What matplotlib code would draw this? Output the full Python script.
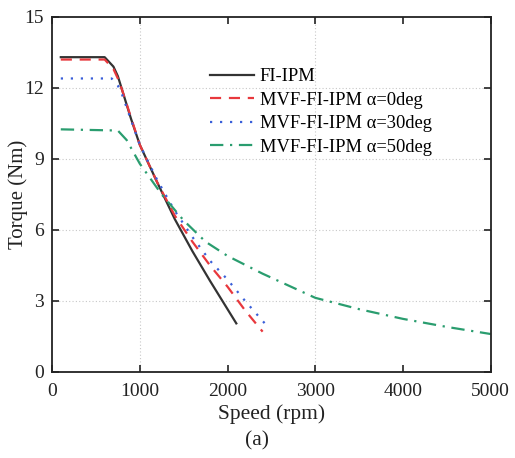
import numpy as np
import matplotlib.pyplot as plt

plt.rcParams['font.family'] = ['Liberation Serif', 'DejaVu Serif']
plt.rcParams['mathtext.fontset'] = 'stix'

# data (speed in rpm, torque in Nm)
spd_fi = [100, 600, 700, 750, 800, 900, 1000, 1200, 1400, 1600, 1800, 2000, 2100]
trq_fi = [13.3, 13.3, 12.9, 12.5, 11.9, 10.7, 9.6, 8.0, 6.45, 5.1, 3.85, 2.65, 2.05]

spd_a0 = [100, 600, 700, 750, 800, 1000, 1200, 1400, 1600, 1800, 2000, 2200, 2400]
trq_a0 = [13.2, 13.2, 12.8, 12.4, 11.9, 9.6, 8.0, 6.6, 5.5, 4.5, 3.6, 2.6, 1.7]

spd_a30 = [100, 680, 750, 800, 1000, 1200, 1400, 1600, 1800, 2000, 2200, 2460]
trq_a30 = [12.4, 12.4, 12.1, 11.7, 9.6, 8.1, 6.8, 5.7, 4.7, 3.9, 3.0, 1.9]

spd_a50 = [100, 750, 850, 1000, 1250, 1500, 1750, 2000, 2400, 3000, 3500, 4000, 4500, 4750, 5000]
trq_a50 = [10.25, 10.2, 9.8, 8.8, 7.5, 6.4, 5.5, 4.9, 4.15, 3.13, 2.65, 2.24, 1.9, 1.75, 1.6]

labels = ['FI-IPM', 'MVF-FI-IPM α=0deg', 'MVF-FI-IPM α=30deg', 'MVF-FI-IPM α=50deg']

fig = plt.figure(figsize=(5.15, 4.58), dpi=100)
ax = fig.add_axes([0.101, 0.188, 0.852, 0.775])

# grid (reference shows vertical grid only at 1000 and 3000)
for gx in [1000, 3000]:
    ax.axvline(gx, color='#c8c8c8', ls=(0, (1, 2)), lw=0.8, zorder=0)
for gy in [3, 6, 9, 12]:
    ax.axhline(gy, color='#c8c8c8', ls=(0, (1, 2)), lw=0.8, zorder=0)

ax.plot(spd_fi, trq_fi, color='#333333', lw=1.6, label=labels[0])
ax.plot(spd_a0, trq_a0, color='#e8383d', lw=1.6, ls=(0, (5, 3.5)), label=labels[1])
ax.plot(spd_a30, trq_a30, color='#3a5fd9', lw=1.6, ls=(0, (1, 3.5)), label=labels[2])
ax.plot(spd_a50, trq_a50, color='#2a9d6f', lw=1.6, ls=(0, (6, 3, 1, 3)), label=labels[3])

ax.set_xlim(0, 5000)
ax.set_ylim(0, 15)
ax.set_xticks([0, 1000, 2000, 3000, 4000, 5000])
ax.set_yticks([0, 3, 6, 9, 12, 15])
ax.tick_params(direction='in', top=True, right=True, length=5, width=1.2,
               labelsize=14, colors='#222222')
ax.tick_params(axis='x', pad=8)
ax.tick_params(axis='y', pad=6)
for s in ax.spines.values():
    s.set_linewidth(1.3)
    s.set_color('#222222')

ax.set_xlabel('Speed (rpm)', fontsize=15.5, color='#222222')
ax.set_ylabel('Torque (Nm)', fontsize=15, color='#222222', va='center')
ax.xaxis.set_label_coords(0.5, -0.092)
ax.yaxis.set_label_coords(-0.077, 0.5)

ax.legend(loc='upper left', bbox_to_anchor=(0.36, 0.855), frameon=False,
          fontsize=13.3, handlelength=2.4, labelspacing=0.35, handletextpad=0.3,
          borderaxespad=0, borderpad=0)

fig.text(0.5, 0.037, '(a)', ha='center', va='center', fontsize=15.5, color='#222222')

fig.savefig('out.png', dpi=100)
